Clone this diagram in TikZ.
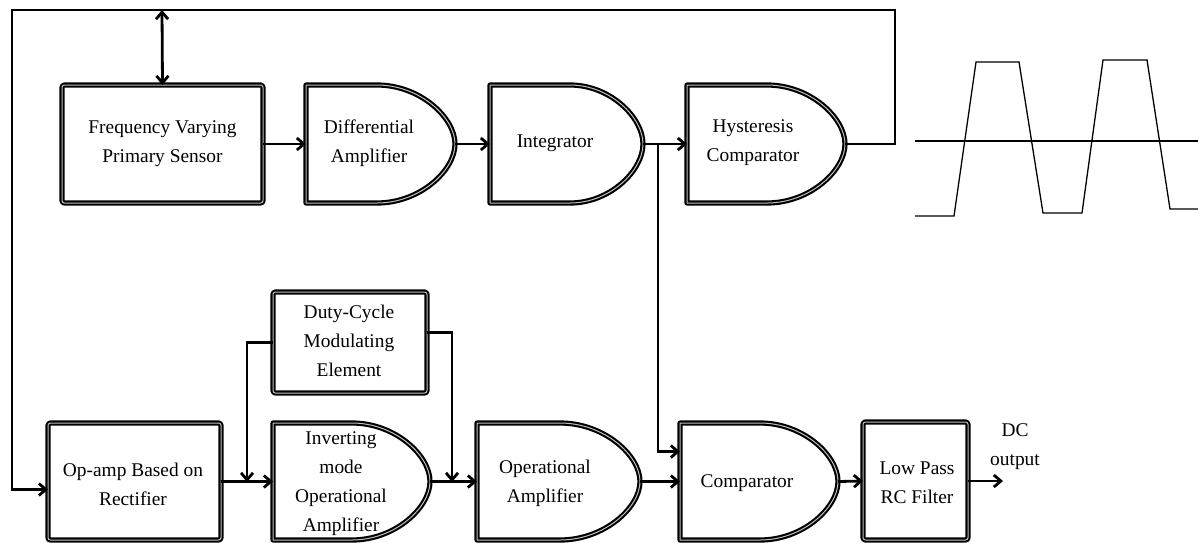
\documentclass[tikz,border=0pt]{standalone}
\usepackage{fontspec}
\setmainfont{Liberation Serif}
\usetikzlibrary{arrows.meta,fit}
\begin{document}
\begin{tikzpicture}[x=0.5pt,y=-0.5pt,
  blk/.style={draw=black, line width=1.05pt, double=gray!50, double distance=0.5pt, line join=round},
  bb/.style={inner sep=0pt, outer sep=0pt},
  lbl/.style={font=\fontsize{9.7}{14.5}\selectfont, align=center, inner sep=0pt},
  conn/.style={line width=1.4pt},
  arr/.style={conn, -{Straight Barb[length=3.5pt,width=6pt]}},
  darr/.style={conn, {Straight Barb[length=3.5pt,width=6pt]}-{Straight Barb[length=3.5pt,width=6pt]}},
  wave/.style={line width=0.65pt}]
\newcommand\rblock[5]{%
  \node[bb, fit={(#2,#3)(#4,#5)}] (#1) {};
  \draw[blk, rounded corners=1.2pt] (#1.north west) rectangle (#1.south east);}
\newcommand\dblock[6]{%
  \node[bb, fit={(#2,#3)(#4,#5)}] (#1) {};
  \draw[blk] (#2,#3) -- ({#4-#6},#3)
    .. controls ({#4-0.448*#6},#3) and (#4,{#3+0.276*(#5-#3)}) .. (#4,{(#3+#5)/2})
    .. controls (#4,{#5-0.276*(#5-#3)}) and ({#4-0.448*#6},#5) .. ({#4-#6},#5)
    -- (#2,#5) -- cycle;}
\useasboundingbox (0,0) rectangle (1198,542);

% top row
\rblock{fvs}{62}{85}{263}{203}
\dblock{da}{306}{85}{455}{203}{78}
\dblock{integ}{490}{85}{643}{203}{73}
\dblock{hc}{687}{85}{845}{203}{78}
\node[lbl] (fvs-t) at (fvs) {Frequency Varying\\Primary Sensor};
\node[lbl] (da-t) at (369,143) {Differential\\Amplifier};
\node[lbl] (integ-t) at (555,143) {Integrator};
\node[lbl] (hc-t) at (753,143) {Hysteresis\\Comparator};

% bottom row
\rblock{rect}{48}{423}{221}{540}
\dblock{inv}{273}{423}{430}{540}{78}
\rblock{duty}{273}{292}{427}{393}
\dblock{opamp}{477}{423}{640}{540}{80}
\dblock{comp}{680}{423}{838}{540}{78}
\rblock{lpf}{863}{422}{968}{540}
\node[lbl] (rect-t) at (133,484) {Op-amp Based on\\Rectifier};
\node[lbl] (inv-t) at (341,484) {Inverting\\mode\\Operational\\Amplifier};
\node[lbl] (duty-t) at (349,341) {Duty-Cycle\\Modulating\\Element};
\node[lbl] (opamp-t) at (545,483) {Operational\\Amplifier};
\node[lbl] (comp-t) at (747,483) {Comparator};
\node[lbl] (lpf-t) at (917,483) {Low Pass\\RC Filter};
\node[lbl] (dc) at (1015,447) {DC\\output};

% connectors top
\draw[arr] (fvs.east) -- (da.west);
\draw[arr] (da.east) -- (hc.west -| integ.west);
\draw[arr] (integ.east) -- (hc.west);
\coordinate (tfb) at (162,10);
\draw[darr] (tfb) -- (fvs.north);
\coordinate (fr) at (895,10);
\coordinate (fl) at (12,10);
\draw[arr, line join=miter] (hc.east) -| (fr) -- (fl) |- ([yshift=-4pt]rect.west);
\coordinate (br) at (658,144);
\draw[arr] (br) |- ([yshift=15pt]comp.west);

% connectors bottom
\coordinate (j1) at (247,482);
\coordinate (j2) at (452,482);
\draw[arr] (duty.west) -| (j1);
\draw[arr] ([yshift=5pt]duty.east) -| (j2);
\draw[arr] (rect.east) -- (inv.west);
\draw[arr] (inv.east) -- (opamp.west);
\draw[arr] (opamp.east) -- (comp.west);
\draw[arr] (comp.east) -- (lpf.west);
\coordinate (out) at (1003,481);
\draw[arr] (lpf.east) -- (out);

% waveform
\draw[wave] (915,141) -- (1198,141);
\draw[wave] (915,216) -- (954,216) -- (976,62) -- (1019,62) -- (1043,213) -- (1082,213)
  -- (1103,60) -- (1147,60) -- (1170,209) -- (1198,209);
\end{tikzpicture}
\end{document}
